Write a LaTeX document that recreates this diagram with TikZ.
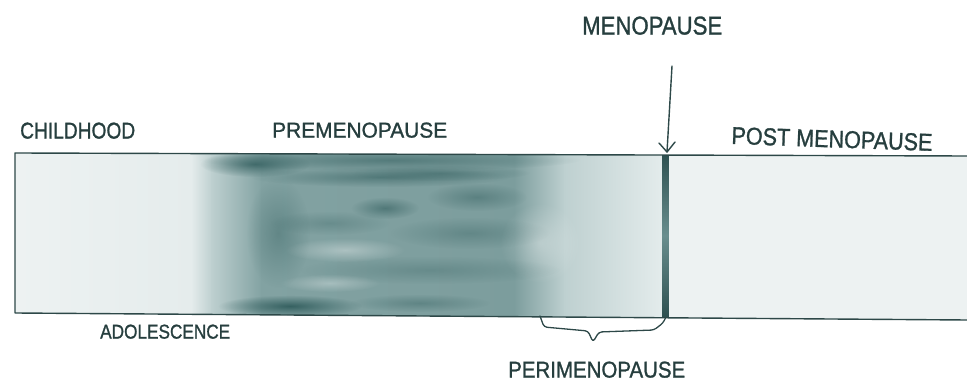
\documentclass[tikz,border=0pt]{standalone}
\usepackage{fontspec}
\setmainfont{Liberation Sans}
\newfontfamily\lblfont[FakeBold=1.2]{Liberation Sans}
\usetikzlibrary{fadings}
\definecolor{ink}{RGB}{38,62,62}
\definecolor{linec}{RGB}{45,72,72}
\definecolor{paper}{RGB}{237,242,242}
\definecolor{washA}{RGB}{229,236,236}
\definecolor{washB}{RGB}{190,208,208}
\definecolor{washC}{RGB}{130,162,162}
\definecolor{washD}{RGB}{124,157,157}
\definecolor{washE}{RGB}{190,208,208}
\definecolor{washF}{RGB}{228,236,236}
\definecolor{streak}{RGB}{50,94,94}
\definecolor{menoline}{RGB}{38,72,72}
\definecolor{menomid}{RGB}{105,142,142}
\tikzfading[name=softblob, inner color=transparent!0, outer color=transparent!100]
\tikzset{
  lbl/.style={inner sep=0pt, text=ink, anchor=south west, font=\lblfont},
  boxedge/.style={draw=linec, line width=1.4pt, line cap=round, line join=round},
  blot/.style={fill=streak, path fading=softblob, opacity=#1},
  liteblot/.style={fill=white, path fading=softblob, opacity=#1},
}
\begin{document}
\begin{tikzpicture}[x=1pt,y=1pt]
\useasboundingbox (0,0) rectangle (967,383);
% box corners
\coordinate (tl) at (15,230);
\coordinate (tr) at (967,227);
\coordinate (bl) at (15,70);
\coordinate (br) at (967,63);
\coordinate (mbot) at (665.5,65);
% background fill and wash
\begin{scope}
  \clip (tl) -- (tr) -- (br) -- (bl) -- cycle;
  \fill[paper] (0,55) rectangle (967,240);
  \shade[left color=paper, right color=washA] (15,55) rectangle (192,240);
  \shade[left color=washA, right color=washB] (191,55) rectangle (212,240);
  \shade[left color=washB, right color=washC] (211,55) rectangle (262,240);
  \shade[left color=washC, right color=washD] (261,55) rectangle (515,240);
  \shade[left color=washD, right color=washE] (514,55) rectangle (565,240);
  \shade[left color=washE, right color=washF] (564,55) rectangle (664,240);
  % streaks
  \fill[blot=0.55] (390,223) ellipse [x radius=190pt, y radius=11pt];
  \fill[blot=0.8] (255,219) ellipse [x radius=55pt, y radius=13pt];
  \fill[blot=0.55] (380,206) ellipse [x radius=130pt, y radius=10pt];
  \fill[blot=0.45] (440,210) ellipse [x radius=90pt, y radius=8pt];
  \fill[blot=0.6] (385,175) ellipse [x radius=34pt, y radius=11pt];
  \fill[blot=0.45] (477,186) ellipse [x radius=50pt, y radius=14pt];
  \fill[blot=0.4] (278,150) ellipse [x radius=32pt, y radius=55pt];
  \fill[blot=0.3] (430,113) ellipse [x radius=130pt, y radius=14pt];
  \fill[blot=0.35] (470,150) ellipse [x radius=80pt, y radius=16pt];
  \fill[blot=0.3] (330,160) ellipse [x radius=60pt, y radius=12pt];
  \fill[blot=0.95] (290,77) ellipse [x radius=72pt, y radius=11pt];
  \fill[blot=0.4] (420,80) ellipse [x radius=70pt, y radius=9pt];
  \fill[liteblot=0.35] (345,133) ellipse [x radius=60pt, y radius=12pt];
  \fill[liteblot=0.3] (330,100) ellipse [x radius=50pt, y radius=9pt];
  \fill[liteblot=0.3] (540,140) ellipse [x radius=40pt, y radius=40pt];
  % menopause line
  \shade[top color=menoline, bottom color=menoline, middle color=menomid]
    (662.5,55) rectangle (668.5,240);
\end{scope}
% box edges
\draw[boxedge] (tr) -- (tl) -- (bl) -- (br);
% brace for perimenopause
\coordinate (b1) at (540,67);
\coordinate (b2) at (544,56);
\coordinate (b3) at (588,52);
\coordinate (b4) at (593,41);
\coordinate (b5) at (599,51);
\coordinate (b6) at (654,53);
\coordinate (b7) at (663,60);
\draw[boxedge, line width=1.3pt, rounded corners=3pt]
  (b1) -- (b2) -- (b3) -- (b4) -- (b5) -- (b6) -- (b7) -- (mbot);
% arrow with open barbs
\coordinate (arrtop) at (672,317);
\coordinate (arrtip) at (667,231);
\draw[boxedge, line width=1.4pt] (arrtop) -- (arrtip);
\draw[boxedge, line width=1.4pt] (arrtip) -- ++(-8,9);
\draw[boxedge, line width=1.4pt] (arrtip) -- ++(8,10);
% labels
\node[lbl] (men) at (582,348) {\resizebox{140pt}{18pt}{MENOPAUSE}};
\node[lbl] (child) at (20,244) {\resizebox{115pt}{16pt}{CHILDHOOD}};
\node[lbl] (prem) at (272,245) {\resizebox{175pt}{15pt}{PREMENOPAUSE}};
\node[lbl, anchor=center, rotate=-2] (post) at (832,244)
  {\resizebox{201pt}{17pt}{POST MENOPAUSE}};
\node[lbl] (adol) at (100,44) {\resizebox{130pt}{14pt}{ADOLESCENCE}};
\node[lbl] (peri) at (508,5) {\resizebox{177pt}{16pt}{PERIMENOPAUSE}};
\end{tikzpicture}
\end{document}
